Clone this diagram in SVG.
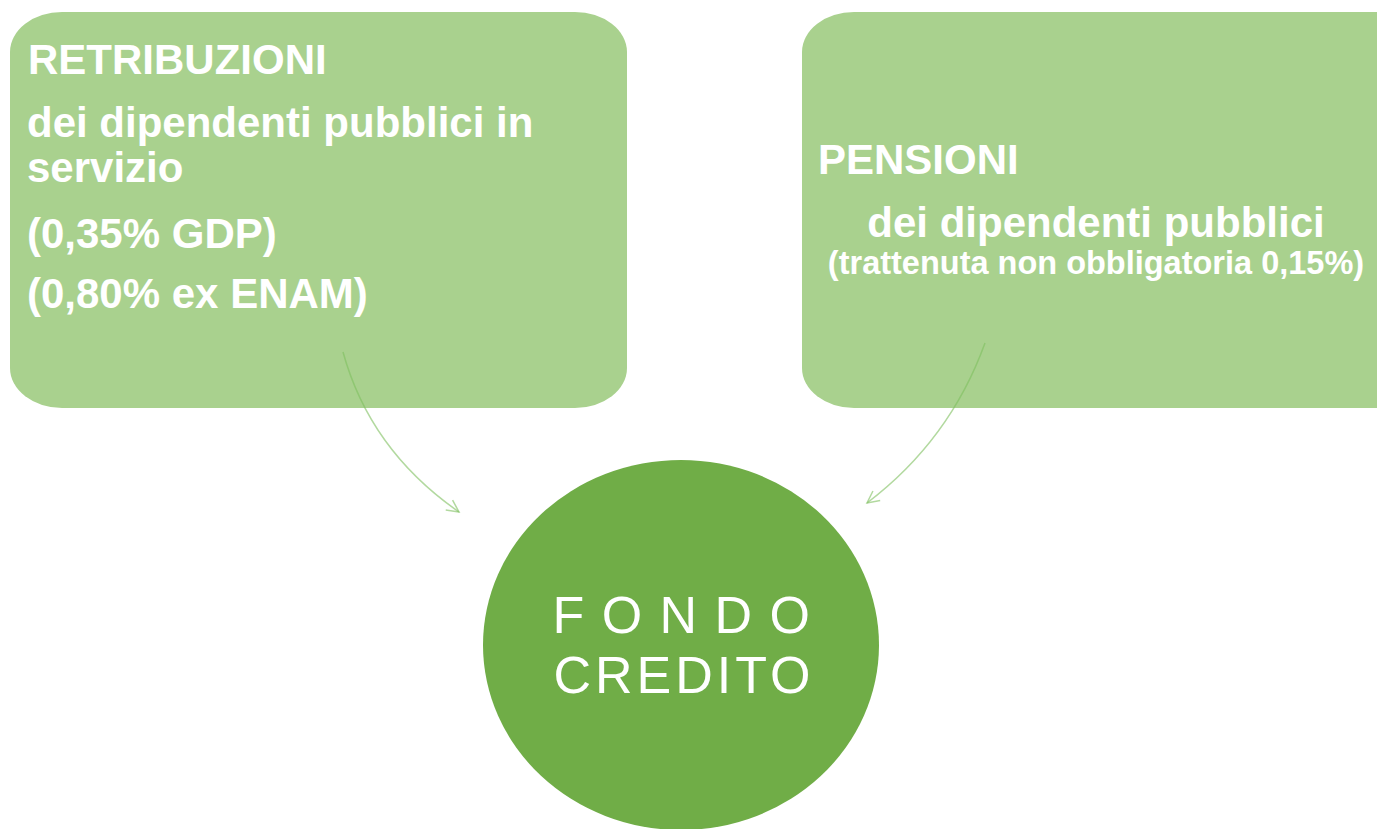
<svg xmlns="http://www.w3.org/2000/svg" width="1377" height="829" viewBox="0 0 1377 829">
<style>
.box{fill:#a9d18e}
.t{font-family:"Liberation Sans",Arial,sans-serif;font-weight:bold;fill:#ffffff}
.c{font-family:"Liberation Sans",Arial,sans-serif;fill:#ffffff;font-size:52px}
.conn{fill:none;stroke:#7fbf5f;stroke-opacity:0.6;stroke-width:1.5}
</style>
<defs>
<marker id="ah" markerWidth="16" markerHeight="16" refX="14" refY="8" orient="auto" markerUnits="userSpaceOnUse">
<path d="M2,2 L14,8 L2,14" fill="none" stroke="#7fbf5f" stroke-opacity="0.6" stroke-width="1.5"/>
</marker>
</defs>
<rect width="1377" height="829" fill="#ffffff"/>
<g id="retribuzioni">
<rect class="box" x="10" y="12" width="617" height="396" rx="52" ry="40"/>
<text class="t" x="28" y="74" font-size="42">RETRIBUZIONI</text>
<text class="t" x="27" y="137" font-size="42">dei dipendenti pubblici in</text>
<text class="t" x="27" y="182" font-size="42">servizio</text>
<text class="t" x="27" y="248" font-size="42">(0,35% GDP)</text>
<text class="t" x="27" y="308" font-size="42">(0,80% ex ENAM)</text>
</g>
<g id="pensioni">
<rect class="box" x="802" y="12" width="627" height="396" rx="52" ry="40"/>
<text class="t" x="818" y="174" font-size="42">PENSIONI</text>
<text class="t" x="1096" y="237" font-size="42" text-anchor="middle">dei dipendenti pubblici</text>
<text class="t" x="1096" y="274" font-size="32.5" text-anchor="middle">(trattenuta non obbligatoria 0,15%)</text>
</g>
<g id="fondo">
<ellipse cx="681" cy="645" rx="198" ry="185" fill="#70ad47"/>
<text class="c" x="682" y="633" text-anchor="middle" letter-spacing="1.5">F O N D O</text>
<text class="c" x="684" y="693" text-anchor="middle" letter-spacing="4">CREDITO</text>
</g>
<g id="connectors">
<path class="conn" d="M343,352 Q370,450 459,512" marker-end="url(#ah)"/>
<path class="conn" d="M985,343 Q950,440 867,503" marker-end="url(#ah)"/>
</g>
</svg>
